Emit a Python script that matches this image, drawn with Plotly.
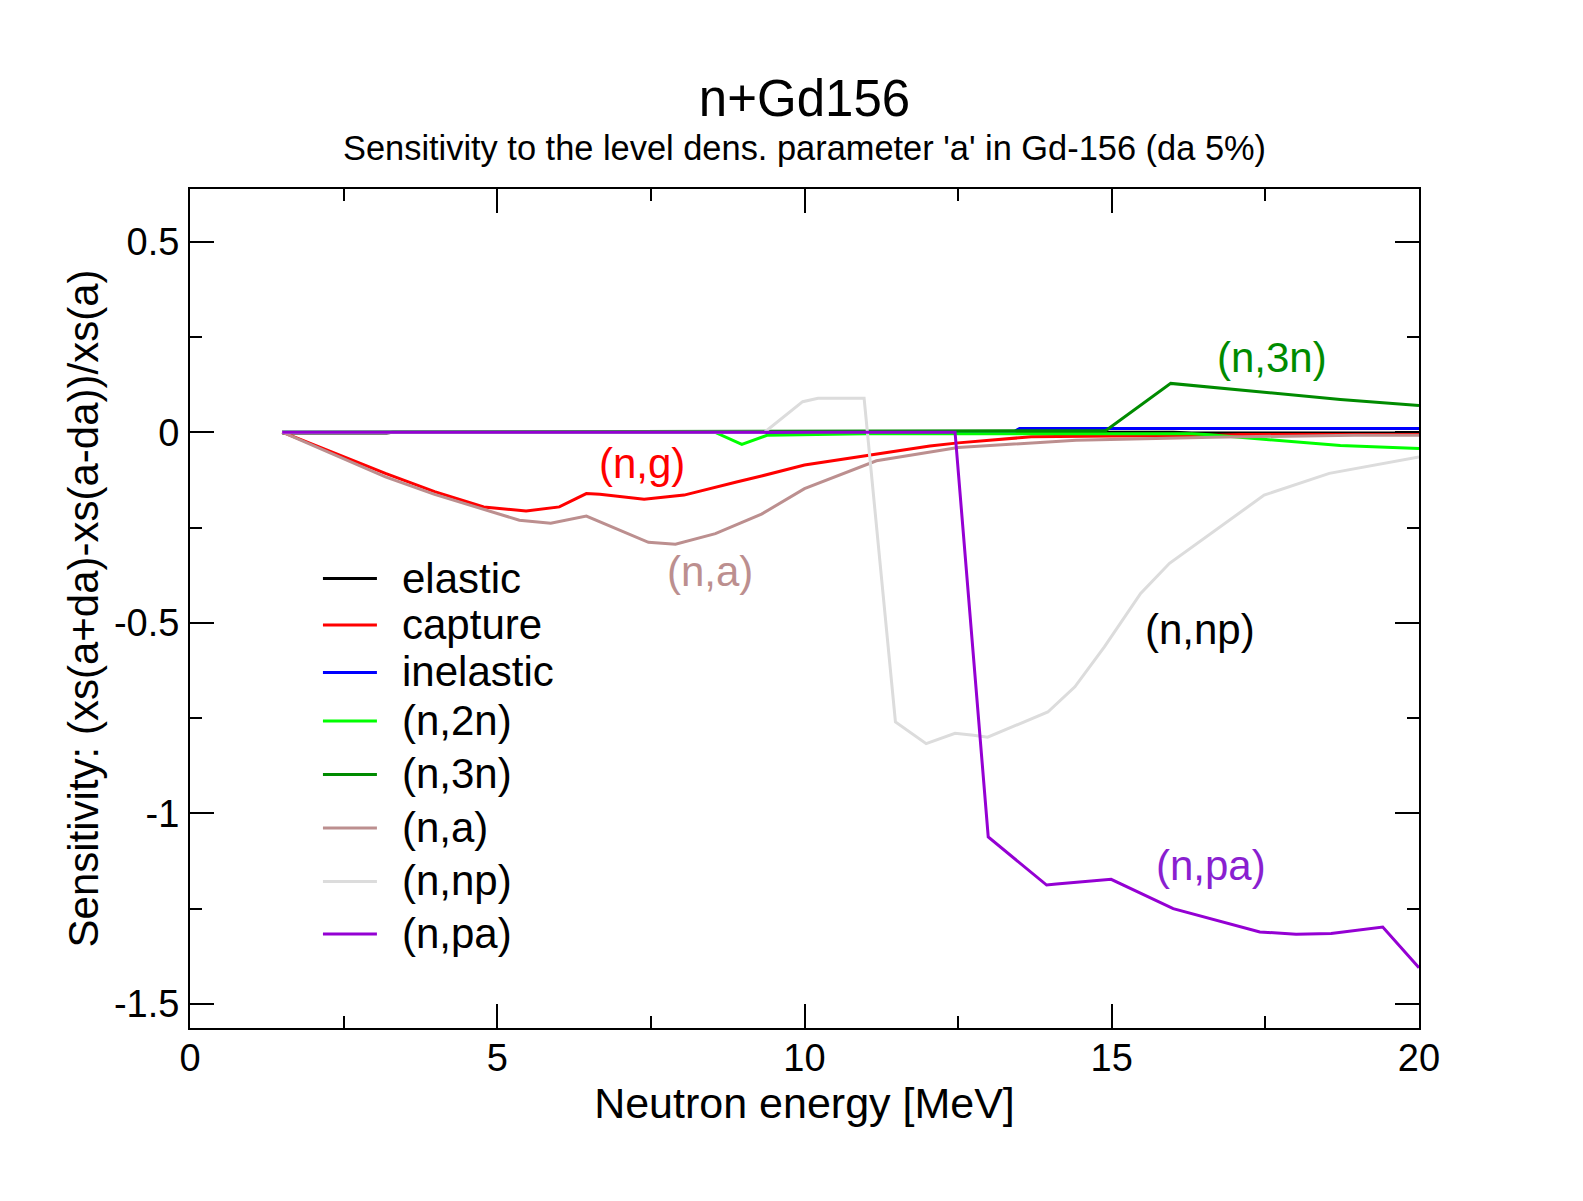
import plotly.graph_objects as go

# ---------------- data ----------------
elastic_x = [1.5, 3.2, 3.3, 16.0, 16.3, 20.0]
elastic_y = [-0.002, -0.002, 0.0, 0.0, -0.002, -0.002]

capture_x = [1.5, 3.18, 3.98, 4.78, 5.47, 6.01, 6.45, 6.67, 7.39, 7.68, 8.04, 8.91, 9.3,
             10.0, 11.04, 12.04, 12.5, 13.69, 15.0, 16.34, 17.1, 18.95, 20.0]
capture_y = [0.0, -0.108, -0.156, -0.196, -0.207, -0.196, -0.161, -0.163, -0.176, -0.171,
             -0.165, -0.130, -0.115, -0.086, -0.060, -0.036, -0.028, -0.012, -0.010, -0.009,
             -0.006, -0.006, -0.006]

inelastic_x = [1.5, 10.2, 10.3, 10.7, 10.8, 13.4, 13.5, 20.0]
inelastic_y = [0.0, 0.0, -0.002, -0.002, 0.0, 0.0, 0.01, 0.01]

n2n_x = [1.5, 8.54, 8.98, 9.39, 11.0, 16.3, 16.6, 17.65, 18.72, 20.0]
n2n_y = [0.0, 0.0, -0.032, -0.008, -0.004, -0.004, -0.007, -0.020, -0.035, -0.043]

n3n_x = [1.5, 12.5, 14.9, 15.96, 17.18, 18.72, 20.0]
n3n_y = [0.0, 0.003, 0.004, 0.128, 0.110, 0.086, 0.070]

na_x = [1.5, 3.18, 3.98, 5.36, 5.87, 6.45, 7.46, 7.90, 8.55, 9.3, 10.0, 10.6, 11.17,
        12.5, 14.42, 16.65, 18.95, 20.0]
na_y = [0.0, -0.117, -0.163, -0.231, -0.239, -0.220, -0.289, -0.294, -0.266, -0.215,
        -0.148, -0.110, -0.075, -0.040, -0.021, -0.013, -0.008, -0.008]

nnp_x = [1.5, 9.35, 9.97, 10.22, 10.97, 11.48, 11.98, 12.45, 12.75, 12.98, 13.96, 14.4,
         14.88, 15.47, 15.94, 17.48, 18.54, 20.0]
nnp_y = [0.0, 0.0, 0.080, 0.089, 0.089, -0.760, -0.817, -0.790, -0.795, -0.800, -0.734,
         -0.668, -0.563, -0.423, -0.344, -0.165, -0.108, -0.065]

npa_x = [1.5, 12.45, 12.99, 13.94, 14.1, 14.99, 16.0, 17.41, 18.0, 18.57, 19.41, 20.0]
npa_y = [0.0, 0.0, -1.062, -1.188, -1.185, -1.173, -1.250, -1.311, -1.317, -1.315,
         -1.298, -1.405]

series_names = ["elastic", "capture", "inelastic", "(n,2n)", "(n,3n)", "(n,a)", "(n,np)", "(n,pa)"]

x_tickvals = [0, 5, 10, 15, 20]
x_ticktext = ["0", "5", "10", "15", "20"]
x_minor = [2.5, 7.5, 12.5, 17.5]
y_tickvals = [-1.5, -1.0, -0.5, 0.0, 0.5]
y_ticktext = ["-1.5", "-1", "-0.5", "0", "0.5"]
y_minor = [-1.25, -0.75, -0.25, 0.25]

labels = ["(n,g)", "(n,a)", "(n,3n)", "(n,np)", "(n,pa)"]
label_x = [7.35, 8.46, 17.6, 16.43, 16.62]
label_y = [-0.082, -0.366, 0.196, -0.517, -1.136]

# ---------------- styling / layout ----------------
FONT = "Liberation Sans, Arial, Helvetica, sans-serif"
colors = ["#000000", "#ff0000", "#0000ff", "#00ff00", "#008b00", "#bc8f8f", "#dcdcdc", "#9400d3"]
label_colors = ["#ff0000", "#bc8f8f", "#008b00", "#000000", "#8a1fd0"]
xs_all = [elastic_x, capture_x, inelastic_x, n2n_x, n3n_x, na_x, nnp_x, npa_x]
ys_all = [elastic_y, capture_y, inelastic_y, n2n_y, n3n_y, na_y, nnp_y, npa_y]

# plot area in page pixels (page has an 8px body margin around the figure)
PX_L, PX_R, PX_T, PX_B = 190.0, 1419.5, 189.0, 1028.0
PW, PH = PX_R - PX_L, PX_B - PX_T
FIG_W, FIG_H = 1567, 1185
BODY = 8


def px2paper_x(px):
    return (px - PX_L) / PW


def px2paper_y(py):
    return (PX_B - py) / PH


fig = go.Figure()
for name, xs, ys, col in zip(series_names, xs_all, ys_all, colors):
    fig.add_trace(go.Scatter(x=xs, y=ys, mode="lines", name=name,
                             line=dict(color=col, width=3)))

for t, lx, ly, c in zip(labels, label_x, label_y, label_colors):
    fig.add_annotation(x=lx, y=ly, text=t, showarrow=False,
                       font=dict(family=FONT, size=42, color=c))

# legend drawn in the xmgrace style (long line samples, tight rows)
legend_rows_px = [578.5, 625.0, 672.4, 720.9, 774.4, 827.9, 881.4, 933.9]
for name, col, py in zip(series_names, colors, legend_rows_px):
    fig.add_shape(type="line", xref="paper", yref="paper",
                  x0=px2paper_x(323), x1=px2paper_x(377),
                  y0=px2paper_y(py), y1=px2paper_y(py),
                  line=dict(color=col, width=3))
    fig.add_annotation(xref="paper", yref="paper", x=px2paper_x(400), y=px2paper_y(py - 0.5),
                       text=name, showarrow=False, xanchor="left", yanchor="middle",
                       font=dict(family=FONT, size=42, color="black"))

fig.add_annotation(xref="paper", yref="paper", x=0.5, y=px2paper_y(148),
                   text="Sensitivity to the level dens. parameter 'a' in Gd-156 (da 5%)",
                   showarrow=False, yanchor="middle",
                   font=dict(family=FONT, size=34.4, color="black"))

axis_common = dict(
    showline=True, linecolor="black", linewidth=2, mirror="allticks",
    ticks="inside", ticklen=24, tickwidth=1.5, tickcolor="black",
    showgrid=False, zeroline=False,
    tickfont=dict(family=FONT, size=38, color="black"),
)

fig.update_xaxes(range=[0, 20], tickvals=x_tickvals, ticktext=x_ticktext,
                 minor=dict(tickvals=x_minor, ticks="inside", ticklen=12, tickwidth=1.5,
                            tickcolor="black", showgrid=False),
                 title=dict(text="Neutron energy [MeV]", standoff=7,
                            font=dict(family=FONT, size=43, color="black")),
                 ticklabelstandoff=-5,
                 **axis_common)
fig.update_yaxes(range=[-1.563, 0.638], tickvals=y_tickvals, ticktext=y_ticktext,
                 minor=dict(tickvals=y_minor, ticks="inside", ticklen=12, tickwidth=1.5,
                            tickcolor="black", showgrid=False),
                 title=dict(text="Sensitivity: (xs(a+da)-xs(a-da))/xs(a)", standoff=2,
                            font=dict(family=FONT, size=42, color="black")),
                 ticklabelstandoff=1,
                 **axis_common)

fig.update_layout(
    width=FIG_W, height=FIG_H,
    margin=dict(l=PX_L - BODY, r=FIG_W - (PX_R - BODY), t=PX_T - BODY,
                b=FIG_H - (PX_B - BODY), autoexpand=False),
    paper_bgcolor="white", plot_bgcolor="white",
    title=dict(text="n+Gd156", x=0.5, xref="paper", y=1 - (98 - BODY) / FIG_H,
               yref="container", yanchor="middle", xanchor="center",
               font=dict(family=FONT, size=51, color="black")),
    showlegend=False,
)

fig.write_html("out.html")
